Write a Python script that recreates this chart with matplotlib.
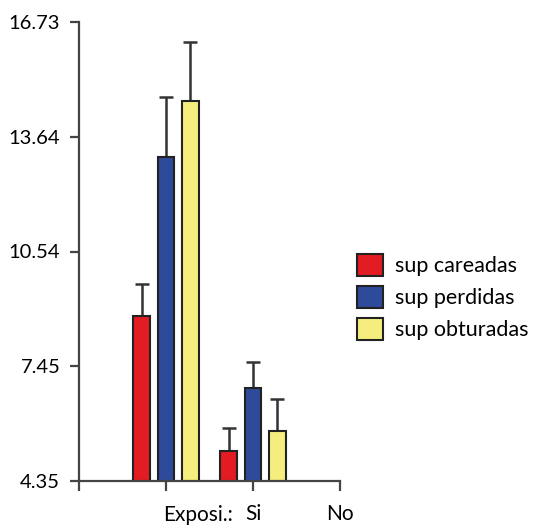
import matplotlib.pyplot as plt
import matplotlib.transforms as mtransforms
import numpy as np

plt.rcParams['font.family'] = ['Lato', 'DejaVu Sans']

groups = [1, 2]
series = ['sup careadas', 'sup perdidas', 'sup obturadas']
means = [
    [8.80, 5.17],
    [13.09, 6.85],
    [14.59, 5.70],
]
upper_err = [
    [0.85, 0.60],
    [1.62, 0.70],
    [1.60, 0.85],
]
colors = ['#e31b23', '#2e4a9a', '#f5ee7e']
yticks = [4.35, 7.45, 10.54, 13.64, 16.73]
xtick_labels = ['', '', 'Si', 'No']

fig = plt.figure(figsize=(5.35, 5.25), dpi=100)
ax = fig.add_axes([79 / 535, 1 - 481 / 525, (340 - 79) / 535, (481 - 22) / 525])

x = np.array(groups, dtype=float)
offsets = [-0.28, 0.0, 0.28]
for i in range(3):
    ax.bar(x + offsets[i], means[i], width=0.19, bottom=0,
           color=colors[i], edgecolor='#222222', linewidth=1.5, label=series[i],
           zorder=2)
    ax.errorbar(x + offsets[i], means[i],
                yerr=[np.zeros(len(groups)), upper_err[i]],
                fmt='none', ecolor='#333333', elinewidth=1.8, capsize=5,
                capthick=1.8, zorder=1)

ax.set_ylim(4.35, 16.73)
ax.set_xlim(0, 3)
ax.set_yticks(yticks)
ax.set_yticklabels([f'{v:.2f}' for v in yticks])
ax.set_xticks(range(4))
ax.set_xticklabels(xtick_labels)

for s in ['top', 'right']:
    ax.spines[s].set_visible(False)
for s in ['left', 'bottom']:
    ax.spines[s].set_linewidth(1.6)
    ax.spines[s].set_color('#444444')
ax.tick_params(axis='y', length=6.5, width=1.6, color='#444444', pad=7, labelsize=14.5)
ax.tick_params(axis='x', length=7, width=1.6, color='#444444', pad=9.5, labelsize=15)

trans = mtransforms.blended_transform_factory(ax.transData, ax.transAxes)
ax.text(1.77, -0.053, 'Exposi.:', transform=trans, ha='right', va='top', fontsize=15)

fig.legend(loc='center left', bbox_to_anchor=(357 / 535, 1 - 297 / 525),
           frameon=False, fontsize=15.5, handlelength=1.2, handleheight=1.2,
           labelspacing=0.45, handletextpad=0.55, borderpad=0, borderaxespad=0)

fig.savefig('out.png', dpi=100, facecolor='white')
